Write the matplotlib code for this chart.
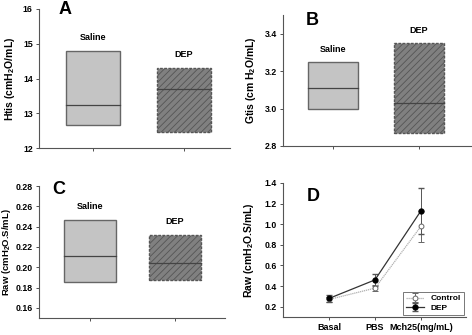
import matplotlib.pyplot as plt
from matplotlib.patches import Rectangle

# --- Data ---
groups = ["Saline", "DEP"]

htis_low = [12.67, 12.45]
htis_med = [13.25, 13.70]
htis_high = [14.80, 14.30]

gtis_low = [3.00, 2.87]
gtis_med = [3.11, 3.03]
gtis_high = [3.25, 3.35]

raw_low = [0.185, 0.187]
raw_med = [0.211, 0.204]
raw_high = [0.247, 0.232]

steps = ["Basal", "PBS", "Mch25(mg/mL)"]
ctrl_mean = [0.27, 0.38, 0.98]
ctrl_err = [0.02, 0.03, 0.15]
dep_mean = [0.28, 0.46, 1.13]
dep_err = [0.03, 0.06, 0.22]

# --- Style ---
plt.rcParams["font.family"] = ["Liberation Sans", "DejaVu Sans"]
plt.rcParams["font.weight"] = "bold"
plt.rcParams["mathtext.fontset"] = "custom"
plt.rcParams["mathtext.rm"] = "Liberation Sans:bold"
plt.rcParams["mathtext.default"] = "rm"
plt.rcParams["hatch.color"] = "#4a4a4a"
plt.rcParams["hatch.linewidth"] = 0.6

fig = plt.figure(figsize=(4.72, 3.35), dpi=100)
W, H = 472, 335


def px_axes(left, right, top, bottom):
    return fig.add_axes([left / W, 1 - bottom / H, (right - left) / W, (bottom - top) / H])


def style(ax):
    ax.spines["top"].set_visible(False)
    ax.spines["right"].set_visible(False)
    for s in ("left", "bottom"):
        ax.spines[s].set_color("#555555")
        ax.spines[s].set_linewidth(0.8)
    ax.tick_params(labelsize=6.3, length=2.5, width=0.6, colors="#333333", labelcolor="black", pad=2)


def ylab(ax, text, x_px, left, right, size=7.5):
    # x_px is the right edge of the rotated label, in figure pixels
    ax.set_ylabel(text, fontsize=size, fontweight="bold")
    ax.yaxis.set_label_coords((x_px - left) / (right - left), 0.5)


def boxes(ax, low, med, high, width, label_off):
    for i, g in enumerate(groups):
        x = i + 1
        if g == "Saline":
            r = Rectangle((x - width / 2, low[i]), width, high[i] - low[i],
                          facecolor="#c4c4c4", edgecolor="#666666", linewidth=1.0)
        else:
            r = Rectangle((x - width / 2, low[i]), width, high[i] - low[i],
                          facecolor="#808080", edgecolor="#555555", linewidth=1.0,
                          linestyle=(0, (2, 1)), hatch="/////")
        ax.add_patch(r)
        ax.plot([x - width / 2, x + width / 2], [med[i], med[i]], color="#444444", lw=0.9)
        ax.text(x, high[i] + label_off, g, ha="center", va="center", fontsize=6.5, fontweight="bold")
    ax.set_xticks([1, 2])
    ax.set_xticklabels([])


# --- Panel A ---
axA = px_axes(39, 230, 9, 148)
style(axA)
boxes(axA, htis_low, htis_med, htis_high, 0.59, 0.38)
axA.set_xlim(0.405, 2.505)
axA.set_ylim(12, 16)
axA.set_yticks([12, 13, 14, 15, 16])
ylab(axA, "Htis (cmH$_2$O/mL)", 17, 39, 230)
axA.text(0.10, 1.0, "A", transform=axA.transAxes, fontsize=13, fontweight="bold", va="center")

# --- Panel B ---
axB = px_axes(283, 471, 15, 146)
style(axB)
boxes(axB, gtis_low, gtis_med, gtis_high, 0.59, 0.065)
axB.set_xlim(0.419, 2.605)
axB.set_ylim(2.8, 3.5)
axB.set_yticks([2.8, 3.0, 3.2, 3.4])
ylab(axB, "Gtis (cm H$_2$O/mL)", 258, 283, 471)
axB.text(0.12, 0.96, "B", transform=axB.transAxes, fontsize=13, fontweight="bold", va="center")

# --- Panel C ---
axC = px_axes(39, 225, 186, 318)
style(axC)
boxes(axC, raw_low, raw_med, raw_high, 0.61, 0.013)
axC.set_xlim(0.4, 2.588)
axC.set_ylim(0.15, 0.28)
axC.set_yticks([0.16, 0.18, 0.20, 0.22, 0.24, 0.26, 0.28])
ylab(axC, "Raw (cmH$_2$O.S/mL)", 13, 39, 225, size=6.8)
axC.text(0.07, 0.97, "C", transform=axC.transAxes, fontsize=13, fontweight="bold", va="center")

# --- Panel D ---
axD = px_axes(283, 466, 183, 317)
style(axD)
xs = range(len(steps))
axD.errorbar(xs, ctrl_mean, yerr=ctrl_err, color="#b0b0b0", ls=(0, (1, 0.6)), lw=0.9,
             marker="o", ms=3.5, mfc="white", mec="#666666", mew=0.7,
             ecolor="#666666", elinewidth=0.7, capsize=2.5, label="Control")
axD.errorbar(xs, dep_mean, yerr=dep_err, color="#333333", lw=0.9,
             marker="o", ms=3.5, mfc="black", mec="black",
             ecolor="#555555", elinewidth=0.7, capsize=2.5, label="DEP")
axD.set_xlim(-1, 2.98)
axD.set_ylim(0.1, 1.4)
axD.set_xticks(list(xs))
axD.set_xticklabels(steps, fontsize=6.5, fontweight="bold")
axD.set_yticks([0.2, 0.4, 0.6, 0.8, 1.0, 1.2, 1.4])
ylab(axD, "Raw (cmH$_2$O.S/mL)", 256, 283, 466)
axD.text(0.13, 0.90, "D", transform=axD.transAxes, fontsize=13, fontweight="bold", va="center")
leg = axD.legend(loc="lower right", frameon=True, fancybox=False,
                 borderpad=0.3, handlelength=2.2, labelspacing=0.2,
                 borderaxespad=0.3, prop={"weight": "bold", "size": 6})
leg.get_frame().set_edgecolor("#555555")
leg.get_frame().set_linewidth(0.7)

fig.savefig("out.png", dpi=100)
